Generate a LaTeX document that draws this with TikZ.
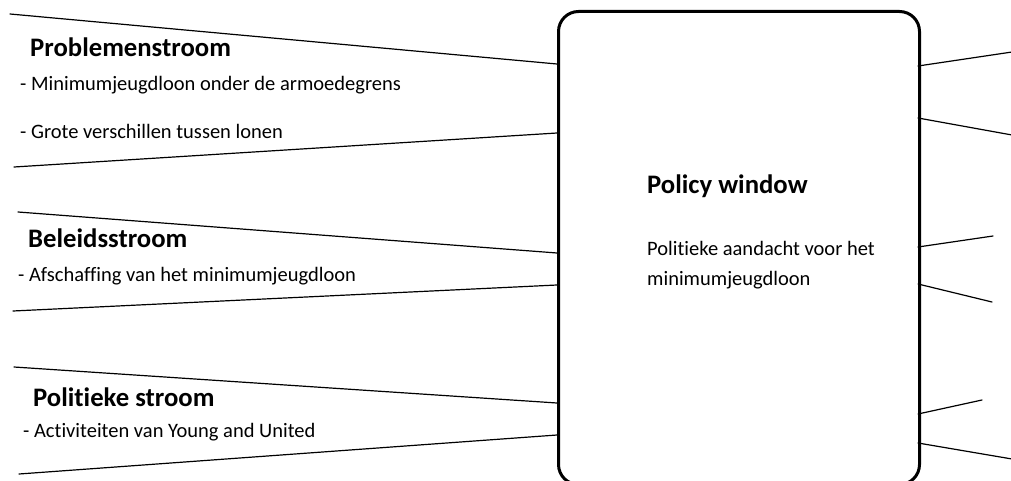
\documentclass[tikz,border=0pt]{standalone}
\usepackage{fontspec}
\setmainfont{Carlito}[Ligatures={NoCommon,NoContextual}]
\usepackage{tikz}
\tikzset{
	head/.style={anchor=base west, inner sep=0pt, font=\bfseries\fontsize{26.7}{30}\selectfont},
	item/.style={anchor=base west, inner sep=0pt, font=\fontsize{20.5}{30}\selectfont},
	windowbox/.style={draw, rounded corners=20, line width=3pt, inner sep=0pt, minimum width=361, minimum height=473, anchor=north west},
	ray/.style={line width=1.2pt, line cap=round},
}
\begin{document}
\begin{tikzpicture}[x=1pt,y=1pt]
		\useasboundingbox (0,0) rectangle (1011,480);
		\node[windowbox] (win) at (557,470) {};
		% streams on the left
		\node[head] (hprob) at (30,423) {Problemenstroom};
		\node[item] (iprob1) at (20,389) {- Minimumjeugdloon onder de armoedegrens};
		\node[item] (iprob2) at (20,341) {- Grote verschillen tussen lonen};
		\node[head] (hbel) at (28,233) {Beleidsstroom};
		\node[item] (ibel) at (18,199) {- Afschaffing van het minimumjeugdloon};
		\node[head] (hpol) at (33,74) {Politieke stroom};
		\node[item] (ipol) at (23,43) {- Activiteiten van Young and United};
		% inside the window
		\node[head] (hwin) at (647,287) {Policy window};
		\node[item] (iwin1) at (647,225) {Politieke aandacht voor het};
		\node[item] (iwin2) at (647,195) {minimumjeugdloon};
		% left rays
		\coordinate (l1) at (10,466);  \coordinate (bl1) at (557,416);
		\coordinate (l2) at (14,313);  \coordinate (bl2) at (557,347);
		\coordinate (l3) at (18,268);  \coordinate (bl3) at (557,227);
		\coordinate (l4) at (13,169);  \coordinate (bl4) at (557,195);
		\coordinate (l5) at (14,113);  \coordinate (bl5) at (557,77);
		\coordinate (l6) at (19,6);    \coordinate (bl6) at (557,45);
		% right rays
		\coordinate (br1) at (918,414); \coordinate (r1) at (1012,428);
		\coordinate (br2) at (918,362); \coordinate (r2) at (1012,345);
		\coordinate (br3) at (918,233); \coordinate (r3) at (993,244);
		\coordinate (br4) at (918,196); \coordinate (r4) at (992,178);
		\coordinate (br5) at (918,66);  \coordinate (r5) at (982,80);
		\coordinate (br6) at (918,37);  \coordinate (r6) at (1012,21);
		\foreach \i in {1,...,6} {
			\draw[ray] (l\i) -- (bl\i);
			\draw[ray] (br\i) -- (r\i);
		}
	\end{tikzpicture}
\end{document}
